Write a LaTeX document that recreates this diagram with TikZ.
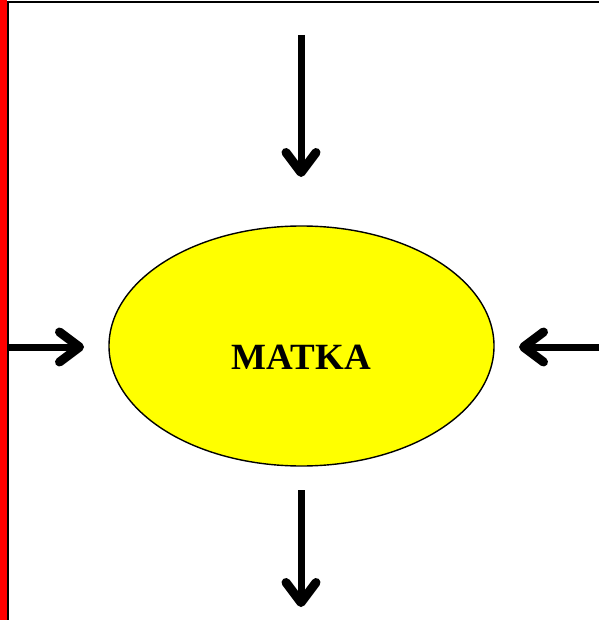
\documentclass[tikz,border=0pt]{standalone}
\usepackage{fontspec}
\setmainfont{Liberation Serif}
\usetikzlibrary{positioning,arrows.meta,shapes.geometric}
\definecolor{wombyellow}{RGB}{255,255,0}
\definecolor{framered}{RGB}{255,0,0}
\tikzset{
  wombbox/.style={ellipse, draw, line width=1.4pt, fill=wombyellow,
    minimum width=385pt, minimum height=240pt, inner sep=0pt},
  wombtext/.style={font=\bfseries\fontsize{37}{42}\selectfont, inner sep=0pt},
  flowarrow/.style={-{Straight Barb[length=20pt, width=30pt, round, line width=9pt]},
    line width=7pt},
}

\begin{document}
\begin{tikzpicture}[x=1pt, y=-1pt]
  \useasboundingbox (0,0) rectangle (599,620);
  % rama
  \fill[framered] (0,0) rectangle (7,620);
  \draw[line width=2pt] (8,620) -- (8,2.5) -- (599,2.5);
  % matka
  \node[wombbox] (womb) at (301.5,346) {};
  \node[wombtext] (wombname) at ([yshift=-11pt]womb.center) {MATKA};
  % punkty koncowe strzalek
  \coordinate (topstart) at (301,35);
  \coordinate (topend) at (301,177);
  \coordinate (botstart) at (301,490);
  \coordinate (botend) at (301,607);
  \coordinate (leftstart) at (9,347);
  \coordinate (leftend) at (84,347);
  \coordinate (rightstart) at (599,347);
  \coordinate (rightend) at (519,347);
  % strzalki
  \draw[flowarrow] (topstart) -- (topend);
  \draw[flowarrow] (botstart) -- (botend);
  \draw[flowarrow] (leftstart) -- (leftend);
  \draw[flowarrow] (rightstart) -- (rightend);
\end{tikzpicture}
\end{document}
